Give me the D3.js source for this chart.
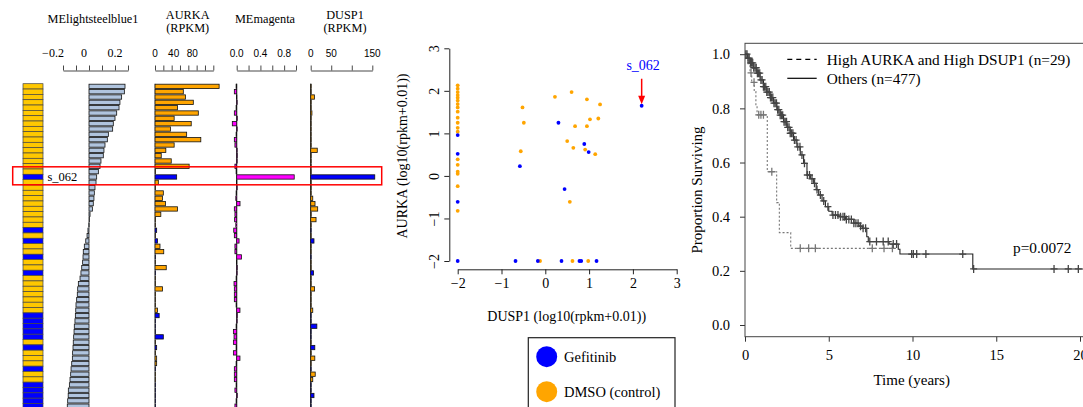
<!DOCTYPE html>
<html><head><meta charset="utf-8">
<script src="https://cdn.jsdelivr.net/npm/d3@7"></script>
<style>
body{margin:0;background:#fff}
svg{display:block}
text{font-family:"Liberation Serif","Times New Roman",serif;fill:#000}
.sans{font-family:"Liberation Sans",Arial,sans-serif}
</style></head><body>
<svg id="fig" width="1083" height="407"></svg>
<script>
// ---- left panel: samples top to bottom (D = DMSO, G = Gefitinib)
const groups = ("DDDDDDDDDDDDDDDDD" + "G" + "DDDDDDDDD" + "G" + "D" + "G" + "DD" + "G" + "DD" + "G" +
  "DDDDDDD" + "GGGGG" + "D" + "G" + "DDD" + "G" + "DD" + "GGGGG").split("");
const markedRow = 17, markedName = "s_062";

const steelblue = [0.277,0.272,0.251,0.238,0.231,0.213,0.2,0.187,0.182,0.149,0.141,0.123,0.115,0.11,0.092,0.085,
  0.072,0.059,0.054,0.046,0.041,0.038,0.033,0.026,0.008,0.003,-0.002,-0.008,-0.015,-0.025,-0.036,-0.044,-0.046,
  -0.049,-0.056,-0.062,-0.069,-0.082,-0.087,-0.09,-0.095,-0.1,-0.102,-0.105,-0.108,-0.113,-0.115,-0.118,-0.121,
  -0.123,-0.126,-0.128,-0.133,-0.138,-0.141,-0.146,-0.151,-0.159,-0.16,-0.164,-0.167];
const aurka = [154,68,73,92,54,104,46,87,37,76,110,46,26,15,39,82,1,52,8,0.5,20,18,25,54,14,1,0.5,4,0.5,6,
  12,21,0.5,0.5,27,0.5,0.5,0.5,18,0.5,0.5,0.5,6,10,0.5,0.5,0.5,20,0.5,4,0.5,4,4,0.5,0.5,0.5,0.5,0.5,0.5,0.5,0.5];
const magenta = [-0.01,-0.04,-0.005,0.005,-0.01,-0.04,0.01,-0.074,0.005,-0.01,-0.04,-0.03,0.005,0.01,0.005,-0.03,
  -0.01,0.97,-0.005,0.005,-0.01,-0.015,0.056,-0.04,-0.03,-0.035,-0.015,-0.05,-0.04,0.04,-0.03,-0.03,0.08,-0.005,
  0.01,0.005,-0.01,-0.045,-0.04,-0.04,-0.04,-0.01,0.055,0.01,0.005,-0.01,-0.056,-0.045,-0.056,-0.01,-0.056,0.055,
  -0.01,-0.04,-0.04,-0.04,-0.01,-0.03,0.01,-0.01,-0.03];
const dusp1 = [0.3,0.3,9,0.3,0.3,3,0.3,0.3,0.3,0.3,0.3,0.3,16,0.3,0.3,0.3,1,156,0.5,0.3,0.3,5,10.5,17,0.3,13,
  0.3,0.3,0.3,8,0.3,0.3,0.3,0.3,0.3,7,0.3,0.3,9.5,0.3,0.3,0.3,5,0.3,0.3,15,0.5,0.5,0.3,10,0.3,10,0.3,0.3,11,5,
  0.3,0.3,8,0.3,0.3];

// ---- scatter: log10(rpkm+0.01)
const gefDusp = [-2,-2,-2,-2,0.30,-0.58,0.89,0.99,0.44,2.20,-0.68,-0.17,0.37,0.78,0.82,1.17];
const gefAurka = [0.96,0.52,-0.61,-2,1.25,0.23,0.75,0.56,-0.31,1.65,-2,-2,-2,-2,-2,-2];
const dmsoDusp = [-2,-2,-2,-2,-2,-2,-2,-2,-2,-2,-2,-2,-2,-2,-2,-2,-2,-2,-2,
  -0.52,-0.49,-0.56,0.22,0.60,0.95,1.25,1.02,1.21,0.68,0.95,0.50,0.64,0.91,1.14,0.56,-0.12,0.62,0.98];
const dmsoAurka = [2.13,2.05,1.97,1.90,1.84,1.77,1.69,1.61,1.51,1.37,1.25,1.13,1.04,0.39,0.26,0.10,0.05,-0.24,-0.82,
  1.61,1.25,0.58,1.86,1.97,1.80,1.68,1.33,1.35,1.17,1.17,0.82,0.66,0.62,0.51,-0.61,-2,-2,-2];
const labelledPoint = {name: "s_062", x: 2.20, y: 1.65};

// ---- Kaplan-Meier curves
const othersT = [0,0.15,0.3,0.5,0.7,0.9,1.1,1.3,1.5,1.7,1.9,2.1,2.3,2.5,2.7,2.9,3.1,3.3,3.5,3.7,3.9,4.1,4.25,
  4.4,4.6,4.8,5.0,5.2,5.6,6.0,6.5,6.8,7.0,7.27,7.36,8.6,9.15,9.25,13.6,20.3];
const othersS = [1,0.985,0.968,0.95,0.93,0.905,0.88,0.86,0.84,0.819,0.795,0.775,0.751,0.73,0.708,0.683,0.658,
  0.628,0.597,0.554,0.54,0.523,0.5,0.48,0.458,0.437,0.42,0.406,0.4,0.39,0.376,0.365,0.357,0.326,0.308,0.299,
  0.28,0.262,0.207,0.207];
const othersCensor = [0.05,0.12,0.18,0.25,0.33,0.38,0.46,0.52,0.6,0.67,0.74,0.8,0.88,0.95,1.02,1.1,1.16,1.24,
  1.3,1.37,1.45,1.52,1.58,1.66,1.73,1.8,1.88,1.95,2.02,2.1,2.17,2.25,2.33,2.4,2.48,2.55,2.63,2.7,2.78,2.86,
  2.95,3.05,3.15,3.28,3.4,3.55,3.72,3.85,4.0,4.15,4.3,4.5,4.7,4.95,5.25,5.4,5.55,5.7,5.85,5.95,6.05,6.2,6.35,
  6.5,6.62,6.75,6.9,7.05,7.2,7.45,7.85,8.25,8.55,8.85,9.05,9.95,10.05,10.25,10.8,13.0,13.65,18.45,19.3,19.9];
const highT = [0,0.18,0.3,0.4,0.55,0.65,0.72,1.33,1.89,2.05,2.73,8.8];
const highS = [1,0.965,0.931,0.896,0.862,0.81,0.776,0.566,0.452,0.341,0.283,0.283];
const highCensor = [0.36,0.54,0.82,0.95,1.1,1.6,3.3,3.8,4.2,7.6,8.3,8.8];
const kmLegend = ["High AURKA and High DSUP1 (n=29)", "Others (n=477)"];
const pValue = "p=0.0072";

const BLUE = "#0000ff", ORANGE = "#ffa500", STRIP_Y = "#ffc800";
const svg = d3.select("#fig");

// ================= left panel =================
const rows = d3.scaleBand().domain(d3.range(groups.length)).range([83.7, 83.7 + 5.33 * groups.length]);
const left = svg.append("g");

left.selectAll("rect.strip").data(groups).join("rect")
  .attr("x", 23).attr("width", 20)
  .attr("y", (d, i) => rows(i)).attr("height", rows.bandwidth())
  .attr("fill", d => d === "G" ? BLUE : STRIP_Y)
  .attr("stroke", "#444").attr("stroke-width", 0.7);

const cols = [
  {title: ["MElightsteelblue1"], cx: 93, vals: steelblue, dom: [-0.2, 0.3], rng: [63, 128],
   ticks: [-0.2, -0.1, 0, 0.1, 0.2, 0.3], labels: [-0.2, 0, 0.2], labScale: d3.scaleLinear([-0.2, 0.2], [53, 115]),
   fmt: d => d === 0 ? "0" : d3.format(".1f")(d), sans: false, fill: () => "#b0c4de", base: null},
  {title: ["AURKA", "(RPKM)"], cx: 187.7, vals: aurka, dom: [0, 140], rng: [155, 213.3],
   ticks: d3.range(0, 141, 20), labels: [0, 40, 80], labScale: d3.scaleLinear([0, 80], [155, 192.3]),
   fmt: d3.format("d"), sans: true, fill: i => groups[i] === "G" ? BLUE : ORANGE, base: "#999"},
  {title: ["MEmagenta"], cx: 265, vals: magenta, dom: [0, 1], rng: [236.7, 296],
   ticks: [0, 0.2, 0.4, 0.6, 0.8, 1], labels: [0, 0.4, 0.8], labScale: null,
   fmt: d3.format(".1f"), sans: true, fill: () => "#ff00ff", base: "#000"},
  {title: ["DUSP1", "(RPKM)"], cx: 345, vals: dusp1, dom: [0, 150], rng: [310.7, 372.3],
   ticks: [0, 50, 100, 150], labels: [0, 50, 150], labScale: null,
   fmt: d3.format("d"), sans: true, fill: i => groups[i] === "G" ? BLUE : ORANGE, base: "#000"}
];

cols.forEach(c => {
  const x = d3.scaleLinear(c.dom, c.rng);
  const lx = c.labScale || x;
  const g = left.append("g");
  c.title.forEach((t, k) => g.append("text")
    .attr("x", c.cx).attr("y", c.title.length > 1 ? 19 + k * 13 : 22.5)
    .attr("text-anchor", "middle").attr("font-size", 12.3).text(t));
  g.selectAll("text.lab").data(c.labels).join("text")
    .attr("class", c.sans ? "sans" : null)
    .attr("x", d => lx(d)).attr("y", 57).attr("text-anchor", "middle")
    .attr("font-size", c.sans ? 10 : 12).text(c.fmt);
  const ax = g.append("g").attr("transform", "translate(0,70.5)")
    .call(d3.axisTop(x).tickValues(c.ticks).tickSize(5).tickSizeOuter(0).tickFormat(""));
  ax.selectAll("path,line").attr("stroke", "#333").attr("stroke-width", 0.9);
  if (c.base) g.append("line").attr("x1", x(0)).attr("x2", x(0))
    .attr("y1", rows.range()[0]).attr("y2", 407).attr("stroke", c.base).attr("stroke-width", 0.8);
  g.selectAll("rect.bar").data(c.vals).join("rect")
    .attr("x", d => Math.min(x(0), x(d)))
    .attr("width", d => Math.max(Math.abs(x(d) - x(0)), 0.5))
    .attr("y", (d, i) => rows(i) + 0.5).attr("height", rows.bandwidth() - 1)
    .attr("fill", (d, i) => c.fill(i)).attr("stroke", "#111").attr("stroke-width", 0.8);
});

left.append("text").attr("x", 47.5).attr("y", 180.7).attr("font-size", 12.5).text(markedName);
left.append("rect").attr("x", 12.7).attr("y", rows(markedRow) - 7.5)
  .attr("width", 369).attr("height", 18)
  .attr("fill", "none").attr("stroke", "#ff0000").attr("stroke-width", 1.5);

// ================= scatter =================
const sx = d3.scaleLinear([-2, 3], [457.7, 676.7]);
const sy = d3.scaleLinear([-2, 3], [261, 48.3]);
const sc = svg.append("g");

const xa = sc.append("g").attr("transform", "translate(0,269.3)")
  .call(d3.axisBottom(sx).ticks(5).tickSize(5).tickSizeOuter(0).tickPadding(4));
const ya = sc.append("g").attr("transform", "translate(449.3,0)")
  .call(d3.axisLeft(sy).ticks(5).tickSize(5).tickSizeOuter(0));
[xa, ya].forEach(a => {
  a.selectAll("path,line").attr("stroke", "#222");
  a.selectAll("text").attr("font-family", "Liberation Serif, serif").attr("font-size", 14).attr("fill", "#000");
});
ya.selectAll("text").attr("x", 0).attr("dy", 0).attr("text-anchor", "middle")
  .attr("transform", "translate(-10,0) rotate(-90)");

sc.append("text").attr("x", 566.7).attr("y", 321).attr("text-anchor", "middle").attr("font-size", 14)
  .text("DUSP1 (log10(rpkm+0.01))");
sc.append("text").attr("transform", "translate(407,156) rotate(-90)").attr("text-anchor", "middle")
  .attr("font-size", 14).text("AURKA (log10(rpkm+0.01))");

sc.selectAll("circle.dmso").data(dmsoDusp).join("circle")
  .attr("cx", d => sx(d)).attr("cy", (d, i) => sy(dmsoAurka[i])).attr("r", 1.9).attr("fill", ORANGE);
sc.selectAll("circle.gef").data(gefDusp).join("circle")
  .attr("cx", d => sx(d)).attr("cy", (d, i) => sy(gefAurka[i])).attr("r", 1.9).attr("fill", BLUE);

const px = sx(labelledPoint.x), py = sy(labelledPoint.y);
sc.append("text").attr("x", px + 1.5).attr("y", py - 36).attr("text-anchor", "middle")
  .attr("font-size", 14).style("fill", BLUE).text(labelledPoint.name);
sc.append("line").attr("x1", px).attr("x2", px).attr("y1", py - 27).attr("y2", py - 9)
  .attr("stroke", "#ff0000").attr("stroke-width", 1.5);
sc.append("path").attr("d", `M${px - 3.5},${py - 10}L${px + 3.5},${py - 10}L${px},${py - 1.5}Z`).attr("fill", "#ff0000");

// legend box
const lg = sc.append("g");
lg.append("rect").attr("x", 528.3).attr("y", 337.7).attr("width", 146.7).attr("height", 90)
  .attr("fill", "#fff").attr("stroke", "#222").attr("stroke-width", 1.2);
[["Gefitinib", BLUE], ["DMSO (control)", ORANGE]].forEach(([t, c], k) => {
  lg.append("circle").attr("cx", 546.7).attr("cy", 356.7 + k * 35).attr("r", 10.5).attr("fill", c);
  lg.append("text").attr("x", 564).attr("y", 356.7 + k * 35).attr("dy", "0.35em")
    .attr("font-size", 14.5).text(t);
});

// ================= Kaplan-Meier =================
const kx = d3.scaleLinear([0, 20], [745, 1080]);
const ky = d3.scaleLinear([0, 1], [325, 54.2]);
const km = svg.append("g");

km.append("defs").append("clipPath").attr("id", "kmclip").append("rect")
  .attr("x", 745).attr("y", 43.3).attr("width", 345).attr("height", 293.4);

const kxa = km.append("g").attr("transform", "translate(0,336.7)")
  .call(d3.axisBottom(kx).tickValues([0, 5, 10, 15, 20]).tickSize(5).tickSizeOuter(0).tickPadding(8));
const kya = km.append("g").attr("transform", "translate(745,0)")
  .call(d3.axisLeft(ky).tickValues([0, 0.2, 0.4, 0.6, 0.8, 1]).tickFormat(d3.format(".1f"))
    .tickSize(5).tickSizeOuter(0).tickPadding(10));
[kxa, kya].forEach(a => {
  a.select("path.domain").remove();
  a.selectAll("line").attr("stroke", "#333");
  a.selectAll("text").attr("font-family", "Liberation Serif, serif").attr("font-size", 14.5).attr("fill", "#000");
});
km.append("rect").attr("x", 745).attr("y", 43.3).attr("width", 345).attr("height", 293.4)
  .attr("fill", "none").attr("stroke", "#444").attr("stroke-width", 1);

km.append("text").attr("x", 911.7).attr("y", 385).attr("text-anchor", "middle").attr("font-size", 15)
  .text("Time (years)");
km.append("text").attr("transform", "translate(702,190) rotate(-90)").attr("text-anchor", "middle")
  .attr("font-size", 15).text("Proportion Surviving");

const step = d3.line().x(d => kx(d[0])).y(d => ky(d[1])).curve(d3.curveStepAfter);
const survAt = (T, S, t) => S[d3.bisectRight(T, t) - 1];
const plot = km.append("g").attr("clip-path", "url(#kmclip)");

function curve(T, S, censor, color, dash, mark) {
  plot.append("path").datum(T.map((t, i) => [t, S[i]])).attr("d", step)
    .attr("fill", "none").attr("stroke", color).attr("stroke-width", 1.1)
    .attr("stroke-dasharray", dash);
  plot.selectAll(null).data(censor).join("path")
    .attr("d", t => {
      const x = kx(t), y = ky(survAt(T, S, t));
      return `M${x - 3.5},${y}H${x + 3.5}M${x},${y - 4}V${y + 4}`;
    })
    .attr("stroke", mark).attr("stroke-width", 1.3);
}
curve(highT, highS, highCensor, "#777", "2,2", "#777");
curve(othersT, othersS, othersCensor, "#222", null, "#444");

kmLegend.forEach((t, k) => {
  const y = 59.3 + k * 19;
  km.append("line").attr("x1", 787.3).attr("x2", 816.7).attr("y1", y).attr("y2", y)
    .attr("stroke", "#000").attr("stroke-width", 1.2).attr("stroke-dasharray", k === 0 ? "5,4" : null);
  km.append("text").attr("x", 826.7).attr("y", y).attr("dy", "0.35em").attr("font-size", 15.3).text(t);
});
km.append("text").attr("x", 1013).attr("y", 247.3).attr("dy", "0.35em").attr("font-size", 15.3).text(pValue);
</script>
</body></html>
